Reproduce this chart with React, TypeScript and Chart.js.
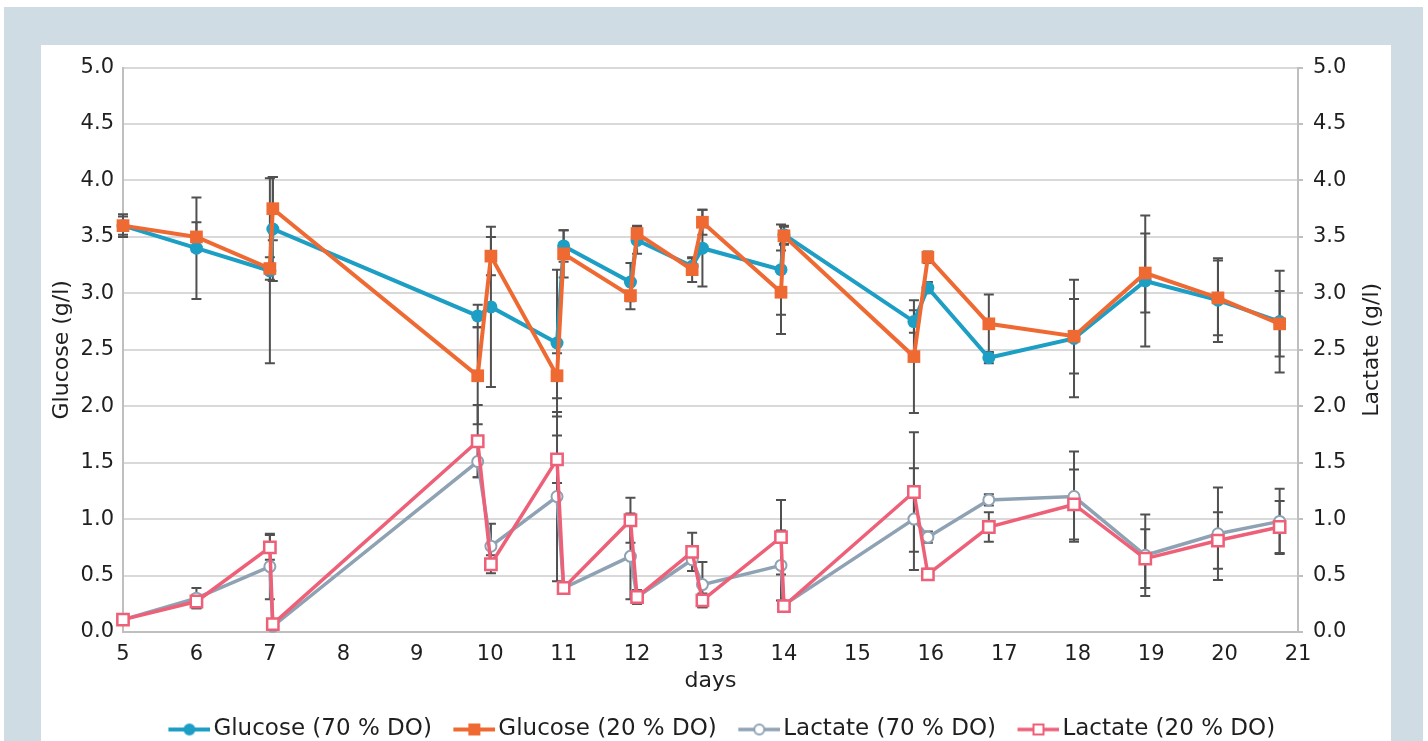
import React, { useEffect, useRef } from "react";
import { Chart, registerables } from "chart.js";

Chart.register(...registerables);

// ---- data ----
const days = [5, 6, 7.0, 7.04, 9.83, 10.01, 10.91, 11.0, 11.91, 12.0, 12.75, 12.89, 13.96, 14.0, 15.77, 15.96, 16.79, 17.95, 18.92, 19.91, 20.75];

const glucose70 = [3.60, 3.40, 3.20, 3.57, 2.80, 2.88, 2.56, 3.42, 3.10, 3.47, 3.24, 3.40, 3.21, 3.52, 2.75, 3.05, 2.43, 2.60, 3.11, 2.94, 2.75];
const glucose70Err = [0.10, 0.45, 0.82, 0.46, 0.10, 0.71, 0.65, 0.14, 0.17, 0.12, 0.07, 0.34, 0.40, 0.08, 0.10, 0.05, 0.05, 0.52, 0.58, 0.37, 0.45];

const glucose20 = [3.60, 3.50, 3.22, 3.75, 2.27, 3.33, 2.27, 3.35, 2.98, 3.53, 3.21, 3.63, 3.01, 3.51, 2.44, 3.32, 2.73, 2.62, 3.18, 2.96, 2.73];
const glucose20Err = [0.08, 0.13, 0.10, 0.28, 0.43, 0.17, 0.20, 0.21, 0.12, 0.07, 0.11, 0.11, 0.37, 0.08, 0.50, 0.05, 0.26, 0.33, 0.35, 0.33, 0.29];

const lactate70 = [0.11, 0.30, 0.58, 0.05, 1.51, 0.76, 1.20, 0.39, 0.67, 0.31, 0.64, 0.42, 0.59, 0.24, 1.00, 0.84, 1.17, 1.20, 0.68, 0.87, 0.98];
const lactate70Err = [0.02, 0.09, 0.29, 0.02, 0.14, 0.20, 0.75, 0.04, 0.38, 0.06, 0.10, 0.20, 0.31, 0.03, 0.45, 0.05, 0.05, 0.40, 0.36, 0.41, 0.29];

const lactate20 = [0.11, 0.27, 0.75, 0.07, 1.69, 0.60, 1.53, 0.39, 0.99, 0.31, 0.71, 0.28, 0.84, 0.23, 1.24, 0.51, 0.93, 1.13, 0.65, 0.81, 0.93];
const lactate20Err = [0.02, 0.06, 0.11, 0.02, 0.32, 0.08, 0.21, 0.04, 0.20, 0.06, 0.17, 0.06, 0.33, 0.03, 0.53, 0.05, 0.13, 0.31, 0.26, 0.25, 0.23];

const seriesLabels = ["Glucose (70 % DO)", "Glucose (20 % DO)", "Lactate (70 % DO)", "Lactate (20 % DO)"];
const xTitle = "days";
const yLeftTitle = "Glucose (g/l)";
const yRightTitle = "Lactate (g/l)";

// ---- style ----
const FONT = "'DejaVu Sans', 'Open Sans', sans-serif";
const FS_TICK = 21;
const FS_TITLE = 22;
const FS_LEGEND = 23;
const TEXT = "#1f1f1f";
const BLUE = "#1d9ec4";
const ORANGE = "#ef6a33";
const GRAY = "#8ea2b4";
const PINK = "#ee6078";
const CANVAS_W = 1350;
const CANVAS_H = 706;
const PLOT_BOTTOM = 587;
const LEGEND_PAD = 10;
const LEGEND_BOX = 45;
const ICON_W = LEGEND_BOX + 17;

function toPoints(ys: number[]) {
  return ys.map((y, i) => ({ x: days[i], y }));
}

function legendIcon(color: string, shape: "circle" | "rect", fill: string, lw: number) {
  const c = document.createElement("canvas");
  c.width = ICON_W;
  c.height = 16;
  const ctx = c.getContext("2d")!;
  const x0 = ICON_W - 42;
  ctx.strokeStyle = color;
  ctx.lineWidth = lw;
  ctx.beginPath();
  ctx.moveTo(x0, 8);
  ctx.lineTo(ICON_W, 8);
  ctx.stroke();
  ctx.fillStyle = fill;
  ctx.lineWidth = 2;
  const cx = x0 + 21;
  if (shape === "circle") {
    ctx.beginPath();
    ctx.arc(cx, 8, 5, 0, Math.PI * 2);
    ctx.fill();
    ctx.stroke();
  } else {
    ctx.fillRect(cx - 5, 3, 10, 10);
    ctx.strokeRect(cx - 5, 3, 10, 10);
  }
  return c;
}

const errorBarPlugin = {
  id: "errorBars",
  beforeDatasetsDraw(chart: any) {
    const ctx = chart.ctx;
    ctx.save();
    ctx.strokeStyle = "#505050";
    ctx.lineWidth = 2;
    chart.data.datasets.forEach((ds: any, i: number) => {
      const errs = ds.errorBars as number[] | undefined;
      if (!errs) return;
      const meta = chart.getDatasetMeta(i);
      const scale = chart.scales[meta.yAxisID];
      meta.data.forEach((pt: any, j: number) => {
        const v = ds.data[j].y;
        const e = errs[j];
        const x = pt.x;
        const yTop = scale.getPixelForValue(v + e);
        const yBot = scale.getPixelForValue(Math.max(0, v - e));
        ctx.beginPath();
        ctx.moveTo(x, yTop);
        ctx.lineTo(x, yBot);
        ctx.moveTo(x - 5, yTop);
        ctx.lineTo(x + 5, yTop);
        ctx.moveTo(x - 5, yBot);
        ctx.lineTo(x + 5, yBot);
        ctx.stroke();
      });
    });
    ctx.restore();
  },
};

// Right axis title drawn reading bottom-to-top, like the left one
const rightTitlePlugin = {
  id: "rightTitle",
  afterDraw(chart: any) {
    const s = chart.scales.y1;
    const area = chart.chartArea;
    const ctx = chart.ctx;
    ctx.save();
    ctx.font = `${FS_TITLE}px ${FONT}`;
    ctx.fillStyle = TEXT;
    ctx.textAlign = "center";
    ctx.textBaseline = "middle";
    ctx.translate(s.right - 19, (area.top + area.bottom) / 2);
    ctx.rotate(-Math.PI / 2);
    ctx.fillText(yRightTitle, 0, 0);
    ctx.restore();
  },
};

export default function App() {
  const ref = useRef<HTMLCanvasElement | null>(null);

  useEffect(() => {
    if (!ref.current) return;
    Chart.defaults.font.family = FONT;
    Chart.defaults.font.size = FS_TICK;
    Chart.defaults.color = TEXT;

    const icons = [
      legendIcon(BLUE, "circle", BLUE, 4),
      legendIcon(ORANGE, "rect", ORANGE, 4),
      legendIcon(GRAY, "circle", "#ffffff", 3.5),
      legendIcon(PINK, "rect", "#ffffff", 3.5),
    ];

    const legendH = FS_LEGEND + LEGEND_PAD + 10;

    const chart = new Chart(ref.current, {
      type: "line",
      data: {
        datasets: [
          {
            label: seriesLabels[0],
            data: toPoints(glucose70),
            errorBars: glucose70Err,
            borderColor: BLUE,
            backgroundColor: BLUE,
            borderWidth: 4,
            pointStyle: "circle",
            pointRadius: 6.5,
            pointBorderWidth: 0,
            pointBackgroundColor: BLUE,
            yAxisID: "y",
            order: 3,
            clip: false,
          },
          {
            label: seriesLabels[1],
            data: toPoints(glucose20),
            errorBars: glucose20Err,
            borderColor: ORANGE,
            backgroundColor: ORANGE,
            borderWidth: 4,
            pointStyle: "rect",
            pointRadius: 9,
            pointBorderWidth: 0,
            pointBackgroundColor: ORANGE,
            yAxisID: "y",
            order: 1,
            clip: false,
          },
          {
            label: seriesLabels[2],
            data: toPoints(lactate70),
            errorBars: lactate70Err,
            borderColor: GRAY,
            backgroundColor: "#ffffff",
            borderWidth: 3.5,
            pointStyle: "circle",
            pointRadius: 5.5,
            pointBorderWidth: 2,
            pointBorderColor: GRAY,
            pointBackgroundColor: "#ffffff",
            yAxisID: "y1",
            order: 2,
            clip: false,
          },
          {
            label: seriesLabels[3],
            data: toPoints(lactate20),
            errorBars: lactate20Err,
            borderColor: PINK,
            backgroundColor: "#ffffff",
            borderWidth: 3.5,
            pointStyle: "rect",
            pointRadius: 8,
            pointBorderWidth: 2.5,
            pointBorderColor: PINK,
            pointBackgroundColor: "#ffffff",
            yAxisID: "y1",
            order: 0,
            clip: false,
          },
        ] as any,
      },
      options: {
        animation: false,
        responsive: false,
        maintainAspectRatio: false,
        layout: { padding: { top: 22, left: 0, right: 0, bottom: 0 } },
        plugins: {
          tooltip: { enabled: false },
          legend: {
            display: true,
            position: "bottom",
            labels: {
              usePointStyle: true,
              pointStyleWidth: LEGEND_BOX,
              padding: LEGEND_PAD,
              color: TEXT,
              font: { size: FS_LEGEND, family: FONT },
              generateLabels: (ch: any) =>
                ch.data.datasets.map((ds: any, i: number) => ({
                  text: ds.label,
                  pointStyle: icons[i],
                  fillStyle: "transparent",
                  strokeStyle: "transparent",
                  lineWidth: 0,
                  hidden: false,
                  datasetIndex: i,
                  fontColor: TEXT,
                })),
            },
          },
        },
        scales: {
          x: {
            type: "linear",
            min: 5,
            max: 21,
            afterFit: (s: any) => {
              s.height = CANVAS_H - legendH - PLOT_BOTTOM;
            },
            ticks: { stepSize: 1, padding: 10, color: TEXT, font: { size: FS_TICK } },
            grid: { display: false, drawTicks: false },
            border: { display: true, color: "#bfbfbf", width: 2 },
            title: { display: true, text: xTitle, color: TEXT, font: { size: FS_TITLE }, padding: { top: 0, bottom: 14 } },
          },
          y: {
            type: "linear",
            position: "left",
            min: 0,
            max: 5,
            afterFit: (s: any) => {
              s.width = 82;
            },
            ticks: { stepSize: 0.5, padding: 9, color: TEXT, font: { size: FS_TICK }, callback: (v: any) => Number(v).toFixed(1) },
            grid: { color: "#d9d9d9", lineWidth: 2, drawTicks: false },
            border: { display: true, color: "#bfbfbf", width: 2 },
            title: { display: true, text: yLeftTitle, color: TEXT, font: { size: FS_TITLE }, padding: { top: 8, bottom: 0 } },
          },
          y1: {
            type: "linear",
            position: "right",
            min: 0,
            max: 5,
            afterFit: (s: any) => {
              s.width = CANVAS_W - 1257;
            },
            ticks: { stepSize: 0.5, padding: 10, color: TEXT, font: { size: FS_TICK }, callback: (v: any) => Number(v).toFixed(1) },
            grid: { drawOnChartArea: false, drawTicks: true, tickLength: 5, color: "#bfbfbf", lineWidth: 2 },
            border: { display: true, color: "#bfbfbf", width: 2 },
            title: { display: false, text: yRightTitle },
          },
        },
      } as any,
      plugins: [errorBarPlugin, rightTitlePlugin],
    });

    return () => chart.destroy();
  }, []);

  return (
    <div>
      <div style={{ position: "fixed", left: 4, top: 7, width: 1419, height: 734, background: "#cfdce4" }} />
      <div style={{ position: "fixed", left: 41, top: 45, width: 1350, height: 696, background: "#ffffff", overflow: "hidden" }}>
        <canvas ref={ref} width={CANVAS_W} height={CANVAS_H} style={{ display: "block", width: CANVAS_W, height: CANVAS_H }} />
      </div>
    </div>
  );
}
